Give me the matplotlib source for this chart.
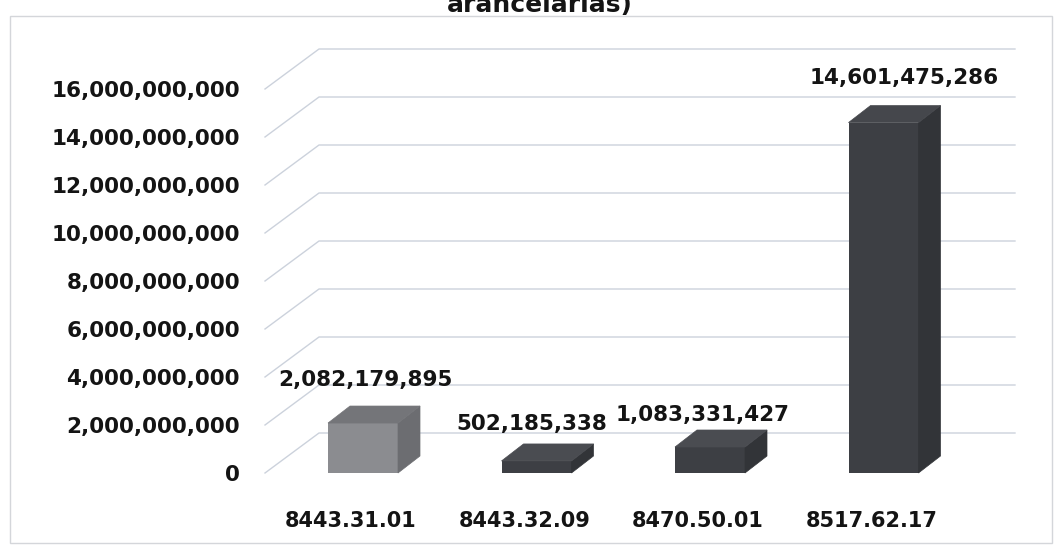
import matplotlib
matplotlib.use("Agg")
import matplotlib.pyplot as plt
from matplotlib.patches import Polygon, Rectangle

# === Data ===
categories = ["8443.31.01", "8443.32.09", "8470.50.01", "8517.62.17"]
values = [2082179895, 502185338, 1083331427, 14601475286]
yticks = [0, 2e9, 4e9, 6e9, 8e9, 10e9, 12e9, 14e9, 16e9]

# style per bar: (front, side, top)
bar_colors = [("#8b8c90", "#6c6d71", "#747579"),
              ("#3d3f44", "#323438", "#4a4c51"),
              ("#3d3f44", "#323438", "#4a4c51"),
              ("#3d3f44", "#323438", "#45474c")]
# label offsets in pixels (dx, dy) from bar front top-centre
label_offsets = [(2, 43), (-5, 37), (-7, 32), (21, 45)]

W, H = 1054, 552
fig = plt.figure(figsize=(W / 100, H / 100), dpi=100)

# axes mapped to the front plane of the 3D chart
x_left, x_right = 265, 961
y_zero, y_top = 473, 89
ax = fig.add_axes([x_left / W, 1 - y_zero / H, (x_right - x_left) / W, (y_zero - y_top) / H])
px_per_cat = 173.5
xlim0 = -(363 - x_left) / px_per_cat
xlim1 = xlim0 + (x_right - x_left) / px_per_cat
ax.set_xlim(xlim0, xlim1)
ax.set_ylim(0, 16e9)
px_per_val = (y_zero - y_top) / 16e9

for s in ax.spines.values():
    s.set_visible(False)

# === Gridlines (diagonal + back wall) ===
DX = 54 / px_per_cat
DY = 40 / px_per_val
for v in yticks:
    ax.plot([xlim0, xlim0 + DX, xlim1 + DX], [v, v + DY, v + DY],
            color="#ccd2dc", lw=1.0, clip_on=False, zorder=1)

# === Bars (front face + side + top) ===
width = 70 / px_per_cat
ddx = 22 / px_per_cat
ddy = 17 / px_per_val
xs = list(range(len(categories)))
ax.bar(xs, values, width=width, color=[c[0] for c in bar_colors], zorder=3)
for x, v, (fc, sc, tc) in zip(xs, values, bar_colors):
    r = x + width / 2
    l = x - width / 2
    side = Polygon([(r, 0), (r + ddx, ddy), (r + ddx, v + ddy), (r, v)],
                   closed=True, facecolor=sc, edgecolor=sc, lw=0.5, zorder=3, clip_on=False)
    top = Polygon([(l, v), (l + ddx, v + ddy), (r + ddx, v + ddy), (r, v)],
                  closed=True, facecolor=tc, edgecolor=tc, lw=0.5, zorder=3, clip_on=False)
    ax.add_patch(side)
    ax.add_patch(top)

# === Data labels ===
for x, v, (odx, ody) in zip(xs, values, label_offsets):
    ax.annotate(f"{v:,}", xy=(x, v), xytext=(odx * 0.72, ody * 0.72),
                textcoords="offset points", ha="center", va="center",
                fontsize=15.5, fontweight="bold", color="#141414", zorder=5,
                annotation_clip=False)

# === Category labels ===
for x, c in zip(xs, categories):
    ax.annotate(c, xy=(x, 0), xytext=(-12 * 0.72, -48 * 0.72),
                textcoords="offset points", ha="center", va="center",
                fontsize=15, fontweight="bold", color="#141414",
                annotation_clip=False)

# === Y axis ===
ax.set_xticks([])
ax.set_yticks(yticks)
ax.set_yticklabels([f"{int(v):,}" for v in yticks], fontsize=15.5,
                   fontweight="bold", color="#141414")
ax.tick_params(axis="y", length=0, pad=18)

# === Title (cut off at top, as in the source) and frame ===
fig.text(540 / W, 1 - 12 / H, "arancelarias)", ha="center", va="baseline",
         fontsize=18, fontweight="bold", color="#141414")
fig.patches.append(Rectangle((10 / W, 1 - 543 / H), 1042 / W, (543 - 16) / H,
                             transform=fig.transFigure, fill=False,
                             edgecolor="#d4d6da", lw=1.0))

fig.savefig("out.png", dpi=100)
